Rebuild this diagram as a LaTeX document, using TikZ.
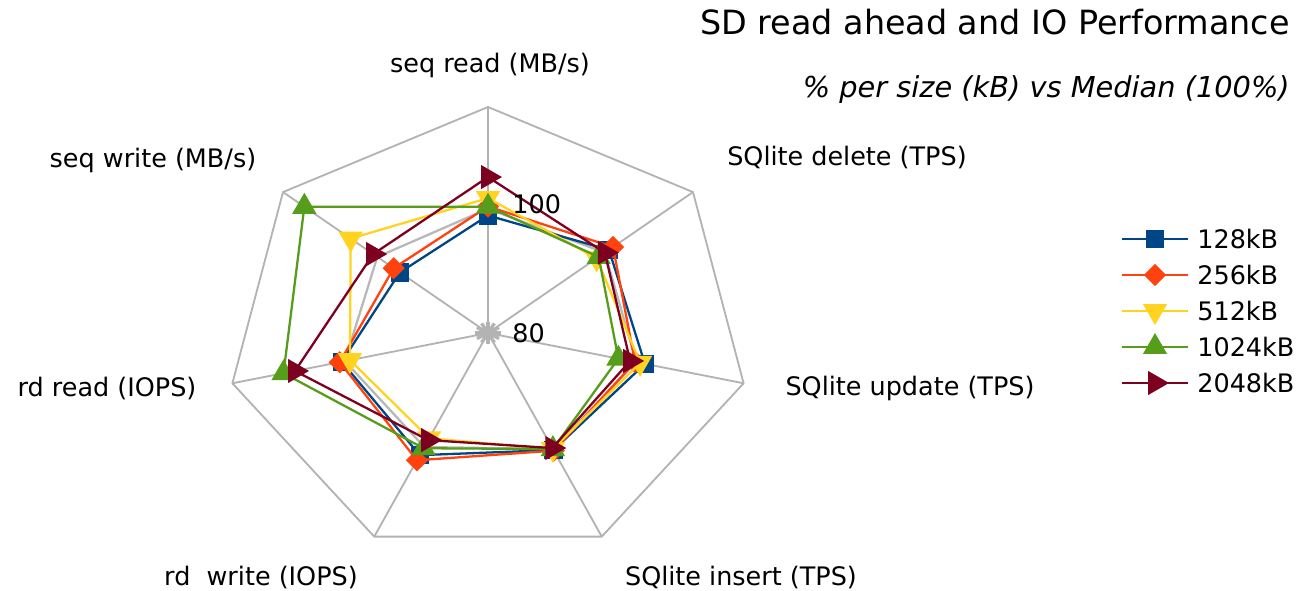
\documentclass[tikz,border=0pt]{standalone}
\usepackage{fontspec}
\setmainfont{DejaVu Sans}
\usetikzlibrary{shapes.geometric}
\definecolor{c128}{HTML}{004586}
\definecolor{c256}{HTML}{FF420E}
\definecolor{c512}{HTML}{FFD320}
\definecolor{c1024}{HTML}{579D1C}
\definecolor{c2048}{HTML}{7E0021}
\definecolor{cmed}{HTML}{B8B8B8}
\definecolor{gridc}{HTML}{B3B3B3}
\tikzset{
  lbl/.style={font=\fontsize{14.5}{17}\selectfont, inner sep=0pt},
  series/.style={line width=1.3pt, line join=round},
  m128/.style={rectangle, fill=c128, minimum size=0.37cm, inner sep=0pt},
  m256/.style={diamond, fill=c256, minimum size=0.45cm, inner sep=0pt},
  m512/.style={regular polygon, regular polygon sides=3, shape border rotate=180, fill=c512, minimum size=0.56cm, inner sep=0pt},
  m1024/.style={regular polygon, regular polygon sides=3, fill=c1024, minimum size=0.56cm, inner sep=0pt},
  m2048/.style={regular polygon, regular polygon sides=3, shape border rotate=-90, fill=c2048, minimum size=0.56cm, inner sep=0pt},
  mmed/.style={inner sep=0pt}
}
\begin{document}
\begin{tikzpicture}[x=0.02cm, y=-0.02cm]
\useasboundingbox (0,0) rectangle (1305,591);

% titles
\node[font=\fontsize{19}{22}\selectfont, anchor=east, inner sep=0pt] (title) at (1290,22) {SD read ahead and IO Performance};
\node[font=\fontsize{16.4}{19}\selectfont\itshape, anchor=east, inner sep=0pt] (subtitle) at (1290,90) {\% per size (kB) vs Median (100\%)};

% radar
\begin{scope}[shift={(488,333)}, xscale=1.16, yscale=-1]
\foreach \k in {0,...,6}
  \coordinate (v\k) at ({90-\k*360/7}:226);
\draw[gridc, line width=1.05pt, line join=round] (v0) -- (v1) -- (v2) -- (v3) -- (v4) -- (v5) -- (v6) -- cycle;
\foreach \k in {0,...,6}
  \draw[gridc, line width=1.05pt] (0,0) -- (v\k);
\foreach \a in {0,30,...,330}
  \draw[gridc, line width=1.9pt] (0,0) -- (\a:11);

% series
\foreach \col/\mk/\vals in {
    cmed/mmed/{0.55,0.57,0.58,0.57,0.56,0.56,0.54},
    c128/m128/{0.52,0.59,0.614,0.575,0.60,0.572,0.43},
    c256/m256/{0.56,0.61,0.575,0.578,0.625,0.58,0.46},
    c512/m512/{0.597,0.53,0.595,0.57,0.517,0.54,0.67},
    c1024/m1024/{0.559,0.54,0.51,0.57,0.566,0.80,0.896},
    c2048/m2048/{0.69,0.57,0.556,0.565,0.526,0.755,0.56}} {
  \foreach \r [count=\k from 0] in \vals
    \coordinate (\col-\k) at ({90-\k*360/7}:{\r*226});
  \draw[\col, series] (\col-0) -- (\col-1) -- (\col-2) -- (\col-3) -- (\col-4) -- (\col-5) -- (\col-6) -- cycle;
  \foreach \k in {0,...,6}
    \node[\mk] (\mk-\k) at (\col-\k) {};
}
\end{scope}

% scale values
\node[lbl, anchor=west] (s100) at (512,204) {100};
\node[lbl, anchor=west] (s80) at (512,333) {80};

% axis labels
\node[lbl] (seqread) at (490,65) {seq read (MB/s)};
\node[lbl] (sqldel) at (847,158) {SQlite delete (TPS)};
\node[lbl] (sqlupd) at (910,388) {SQlite update (TPS)};
\node[lbl] (sqlins) at (741,577) {SQlite insert (TPS)};
\node[lbl] (rdwrite) at (261,577) {rd~ write (IOPS)};
\node[lbl] (rdread) at (107,388) {rd read (IOPS)};
\node[lbl] (seqwrite) at (153,160) {seq write (MB/s)};

% legend
\foreach \col/\mk/\txt/\y in {c128/m128/128kB/239, c256/m256/256kB/275, c512/m512/512kB/311, c1024/m1024/1024kB/347, c2048/m2048/2048kB/383} {
  \draw[\col, series] (1122,\y) -- (1188,\y);
  \node[\mk] (leg\mk) at (1155,\y) {};
  \node[lbl, anchor=west] (txt\mk) at (1197,\y) {\txt};
}
\end{tikzpicture}
\end{document}
